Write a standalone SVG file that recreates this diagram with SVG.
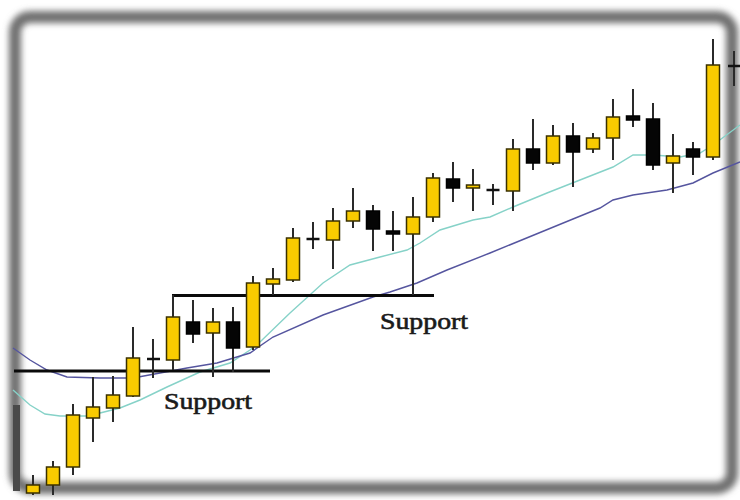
<svg xmlns="http://www.w3.org/2000/svg" width="740" height="500" viewBox="0 0 740 500">
<defs>
<filter id="blur" x="-5%" y="-5%" width="110%" height="110%"><feGaussianBlur stdDeviation="3"/></filter>
<style>
.wick{stroke:#2a2a2a;stroke-width:2;fill:none}
.up{fill:#f9cb00;stroke:#3a3000;stroke-width:1.5}
.dn{fill:#050505;stroke:#000;stroke-width:1.5}
.bar{stroke:#111;stroke-width:2.5}
.sup{stroke:#0a0a0a;stroke-width:3.2}
.lbl{font-family:"Liberation Serif",serif;font-size:23px;fill:#1a1a1a;stroke:#1a1a1a;stroke-width:0.6}
</style>
</defs>
<rect width="740" height="500" fill="#ffffff"/>
<g id="frame">
<rect x="15" y="17" width="717" height="471" rx="15" fill="none" stroke="#707070" stroke-width="12" filter="url(#blur)"/>
<rect x="13" y="405" width="7" height="86" fill="#4a4a4a"/>
</g>
<g id="averages" fill="none">
<polyline points="13,390 30,405 45,414 60,416 90,416 100,413 120,408 140,400 167,387 200,372 230,363 250,350 260,342 290,313 323,283 350,265 380,257 407,250 420,243 440,230 473,220 490,217 513,207 547,193 580,180 613,167 633,155 653,155 680,157 700,153 713,145 740,125" stroke="#86d2c8" stroke-width="1.4"/>
<polyline points="13,348 30,360 47,370 67,377 100,378 133,378 160,373 187,368 217,363 250,353 273,337 323,315 373,297 390,292 417,283 447,270 490,253 573,219 600,208 613,200 633,195 667,190 693,183 713,173 740,162" stroke="#55559f" stroke-width="1.4"/>
</g>
<g id="support-lines">
<line class="sup" x1="14" y1="371" x2="270" y2="371"/>
<line class="sup" x1="172" y1="295.5" x2="434" y2="295.5"/>
</g>
<g id="candles">
<line class="wick" x1="33" y1="475" x2="33" y2="495"/><rect class="up" x="26.5" y="485" width="13" height="8"/>
<line class="wick" x1="53" y1="461" x2="53" y2="495"/><rect class="up" x="46.5" y="467" width="13" height="18"/>
<line class="wick" x1="73" y1="404" x2="73" y2="475"/><rect class="up" x="66.5" y="415" width="13" height="52"/>
<line class="wick" x1="93" y1="377" x2="93" y2="442"/><rect class="up" x="86.5" y="407" width="13" height="11"/>
<line class="wick" x1="113" y1="376" x2="113" y2="422"/><rect class="up" x="106.5" y="395" width="13" height="13"/>
<line class="wick" x1="133" y1="327" x2="133" y2="397"/><rect class="up" x="126.5" y="358" width="13" height="38"/>
<line class="wick" x1="153" y1="339" x2="153" y2="378"/><line class="bar" x1="147" y1="359" x2="160" y2="359"/>
<line class="wick" x1="173" y1="295" x2="173" y2="370"/><rect class="up" x="166.5" y="317" width="13" height="43"/>
<line class="wick" x1="193" y1="300" x2="193" y2="343"/><rect class="dn" x="186.5" y="322" width="13" height="12"/>
<line class="wick" x1="213" y1="308" x2="213" y2="377"/><rect class="up" x="206.5" y="322" width="13" height="11"/>
<line class="wick" x1="233" y1="307" x2="233" y2="372"/><rect class="dn" x="226.5" y="322" width="13" height="26"/>
<line class="wick" x1="253" y1="276" x2="253" y2="350"/><rect class="up" x="246.5" y="283" width="13" height="64"/>
<line class="wick" x1="273" y1="268" x2="273" y2="295"/><rect class="up" x="266.5" y="279" width="13" height="5"/>
<line class="wick" x1="293" y1="228" x2="293" y2="282"/><rect class="up" x="286.5" y="238" width="13" height="42"/>
<line class="wick" x1="313" y1="222" x2="313" y2="249"/><line class="bar" x1="306.5" y1="239" x2="319.5" y2="239"/>
<line class="wick" x1="333" y1="208" x2="333" y2="269"/><rect class="up" x="326.5" y="221" width="13" height="19"/>
<line class="wick" x1="353" y1="188" x2="353" y2="228"/><rect class="up" x="346.5" y="211" width="13" height="10"/>
<line class="wick" x1="373" y1="205" x2="373" y2="251"/><rect class="dn" x="366.5" y="211" width="13" height="18"/>
<line class="wick" x1="393" y1="211" x2="393" y2="251"/><rect class="dn" x="386.5" y="231" width="13" height="3"/>
<line class="wick" x1="413" y1="197" x2="413" y2="295"/><rect class="up" x="406.5" y="217" width="13" height="17"/>
<line class="wick" x1="433" y1="173" x2="433" y2="222"/><rect class="up" x="426.5" y="178" width="13" height="39"/>
<line class="wick" x1="453" y1="162" x2="453" y2="202"/><rect class="dn" x="446.5" y="179" width="13" height="9"/>
<line class="wick" x1="473" y1="169" x2="473" y2="211"/><rect class="up" x="466.5" y="185" width="13" height="3"/>
<line class="wick" x1="493" y1="184" x2="493" y2="205"/><line class="bar" x1="486.5" y1="190" x2="499.5" y2="190"/>
<line class="wick" x1="513" y1="139" x2="513" y2="211"/><rect class="up" x="506.5" y="149" width="13" height="42"/>
<line class="wick" x1="533" y1="119" x2="533" y2="170"/><rect class="dn" x="526.5" y="149" width="13" height="14"/>
<line class="wick" x1="553" y1="125" x2="553" y2="165"/><rect class="up" x="546.5" y="136" width="13" height="27"/>
<line class="wick" x1="573" y1="123" x2="573" y2="187"/><rect class="dn" x="566.5" y="136" width="13" height="16"/>
<line class="wick" x1="593" y1="133" x2="593" y2="153"/><rect class="up" x="586.5" y="138" width="13" height="11"/>
<line class="wick" x1="613" y1="99" x2="613" y2="160"/><rect class="up" x="606.5" y="117" width="13" height="21"/>
<line class="wick" x1="633" y1="89" x2="633" y2="127"/><rect class="dn" x="626.5" y="116" width="13" height="4"/>
<line class="wick" x1="653" y1="103" x2="653" y2="170"/><rect class="dn" x="646.5" y="119" width="13" height="46"/>
<line class="wick" x1="673" y1="134" x2="673" y2="193"/><rect class="up" x="666.5" y="156" width="13" height="7"/>
<line class="wick" x1="693" y1="142" x2="693" y2="175"/><rect class="dn" x="686.5" y="149" width="13" height="8"/>
<line class="wick" x1="713" y1="39" x2="713" y2="160"/><rect class="up" x="706.5" y="65" width="13" height="92"/>
<line class="wick" x1="734" y1="51" x2="734" y2="86"/><line class="bar" x1="728" y1="66" x2="740" y2="66"/>
</g>
<g id="labels">
<text class="lbl" x="164" y="409" textLength="88" lengthAdjust="spacingAndGlyphs">Support</text>
<text class="lbl" x="380" y="329" textLength="88" lengthAdjust="spacingAndGlyphs">Support</text>
</g>
</svg>
